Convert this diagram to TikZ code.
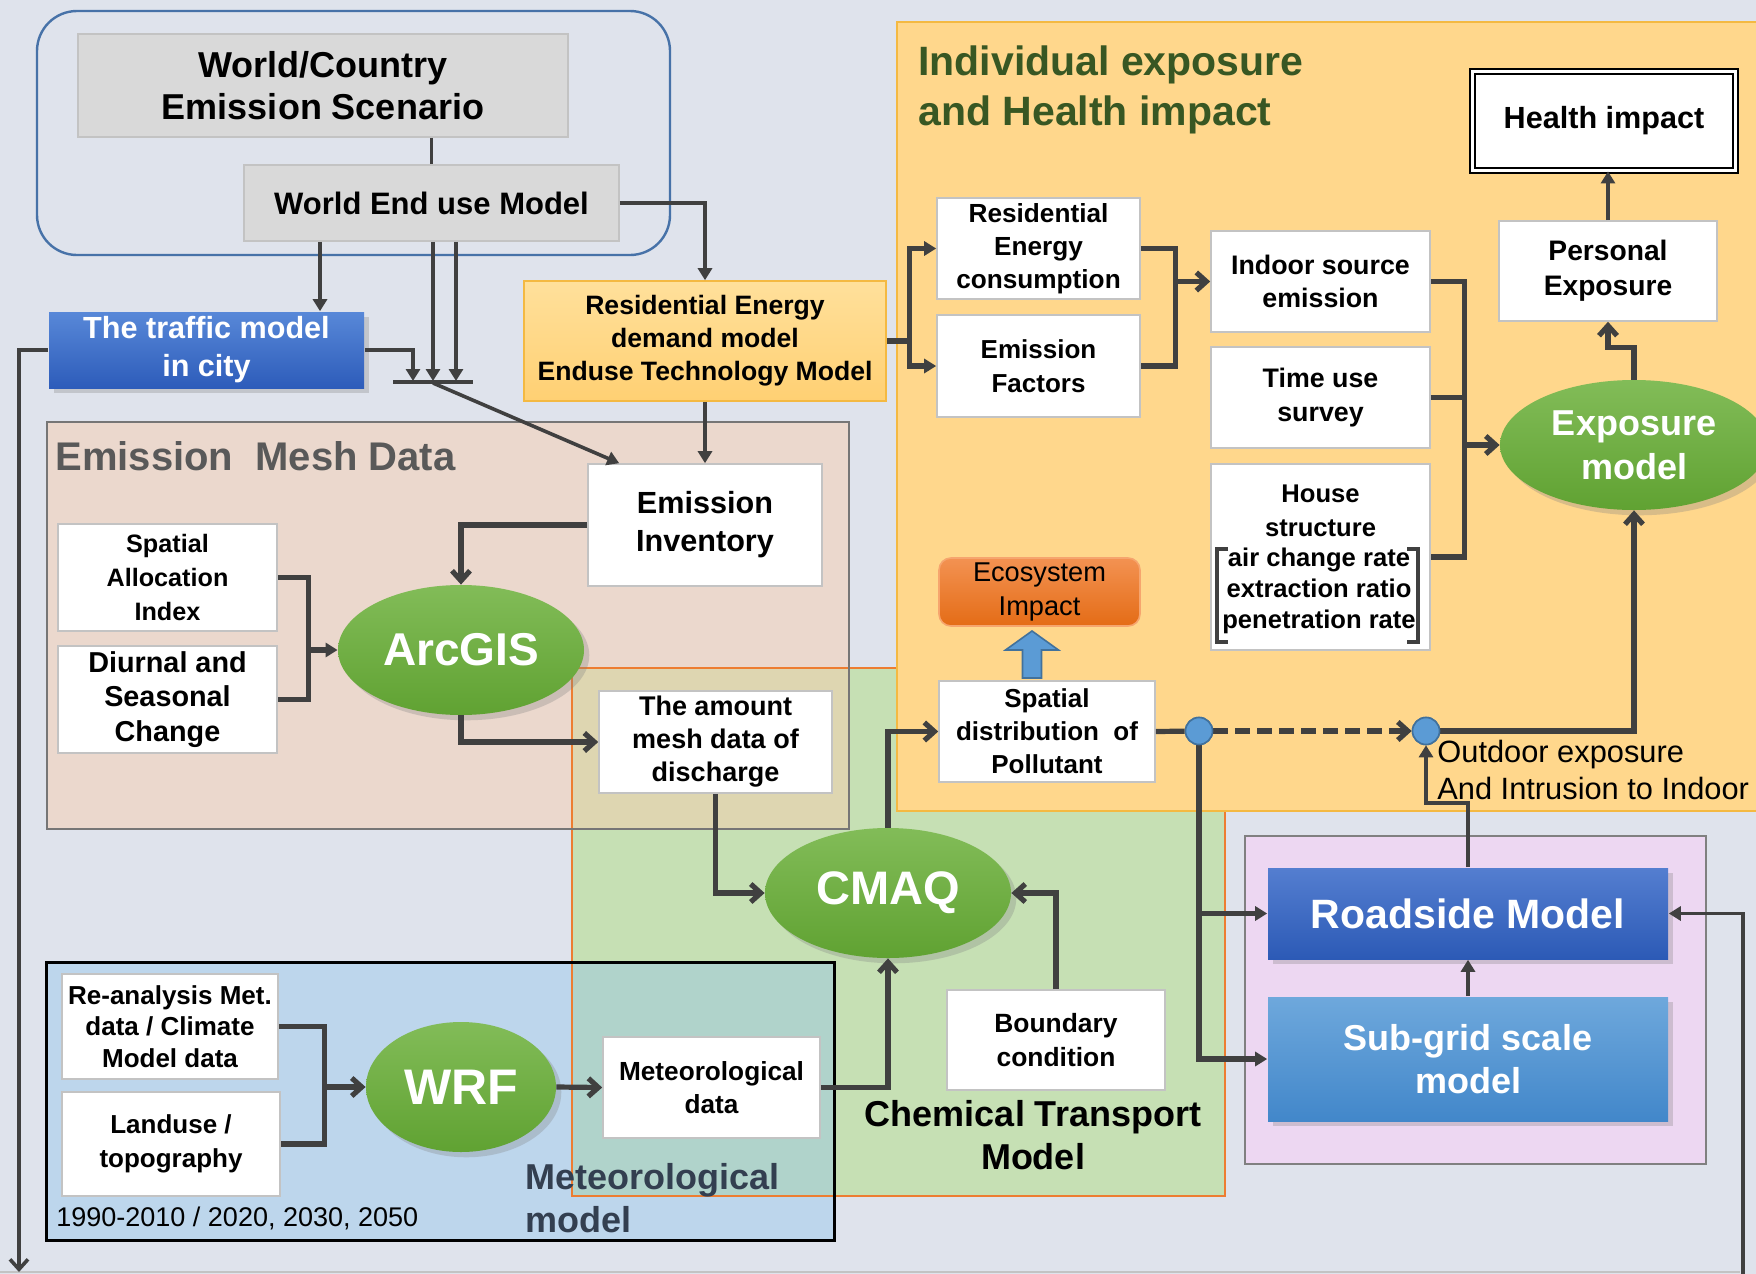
\documentclass[tikz,border=0pt]{standalone}
\usepackage{fontspec}
\setmainfont{Liberation Sans}
\usetikzlibrary{arrows.meta,shapes.geometric,shadows,calc}

\definecolor{bgc}{RGB}{223,227,236}
\definecolor{linec}{RGB}{64,64,64}
\definecolor{boxline}{RGB}{195,195,195}
\definecolor{greyfill}{RGB}{217,217,217}
\definecolor{framec}{RGB}{71,114,168}
\definecolor{meshc}{RGB}{235,216,205}
\definecolor{meshline}{RGB}{118,118,118}
\definecolor{ctmc}{RGB}{198,224,180}
\definecolor{ctmline}{RGB}{237,125,49}
\definecolor{overc}{RGB}{222,214,177}
\definecolor{metc}{RGB}{189,214,236}
\definecolor{metover}{RGB}{176,211,203}
\definecolor{iec}{RGB}{255,215,140}
\definecolor{ieline}{RGB}{244,185,66}
\definecolor{purc}{RGB}{237,215,242}
\definecolor{purline}{RGB}{128,128,128}
\definecolor{titlegreen}{RGB}{56,87,35}
\definecolor{metlabelc}{RGB}{51,63,80}
\definecolor{meshlabelc}{RGB}{89,89,89}
\definecolor{dotc}{RGB}{91,155,213}
\definecolor{dotline}{RGB}{65,113,156}
\definecolor{blobtop}{RGB}{130,188,88}
\definecolor{blobbot}{RGB}{96,162,50}
\definecolor{trafftop}{RGB}{88,136,216}
\definecolor{traffbot}{RGB}{45,92,186}
\definecolor{roadtop}{RGB}{84,126,208}
\definecolor{roadbot}{RGB}{44,90,182}
\definecolor{subtop}{RGB}{110,168,220}
\definecolor{subbot}{RGB}{66,135,202}
\definecolor{ecotop}{RGB}{243,146,82}
\definecolor{ecobot}{RGB}{228,108,22}
\definecolor{ecoline}{RGB}{246,165,110}
\definecolor{redtop}{RGB}{255,224,155}
\definecolor{redbot}{RGB}{255,208,115}

\begin{document}
\begin{tikzpicture}[x=0.5pt,y=0.5pt,yscale=-1,xscale=1,
	box/.style={draw=boxline,line width=0.8pt,fill=white,inner sep=0pt,align=center,font=\bfseries},
	wh/.style 2 args={minimum width=#1*0.5pt,minimum height=#2*0.5pt},
	fs/.style 2 args={font=\bfseries\fontsize{#1}{#2}\selectfont},
	blob/.style={ellipse,inner sep=0pt,align=center,top color=blobtop,bottom color=blobbot,text=white,drop shadow={opacity=0.3}},
	wire/.style={draw=linec,line width=2.6pt},
	wirethin/.style={draw=linec,line width=1.8pt},
	barb/.style={wire,-{Straight Barb[length=5pt,width=9pt]}},
	tri/.style={wirethin,-{Triangle[length=6pt,width=7pt]}},
	trithick/.style={wire,-{Triangle[length=6pt,width=7pt]}},
	dot/.style={circle,fill=dotc,draw=dotline,line width=0.8pt,minimum size=13.5pt,inner sep=0pt}]
	\useasboundingbox (0,0) rectangle (1756,1274);
	\clip (0,0) rectangle (1756,1274);

	%Shape: Background
	\fill[bgc] (0,0) rectangle (1756,1274);
	\draw[boxline,line width=0.8pt] (0,1272) -- (1740,1272);
	%Shape: Rounded frame
	\draw[framec,line width=1.2pt,rounded corners=20pt] (37,11) rectangle (670,255);
	%Shape: Emission mesh / chemical transport / meteorological areas
	\fill[meshc] (47,422) rectangle (849,829);
	\fill[ctmc] (572,668) rectangle (1225,1196);
	\fill[overc] (572,668) rectangle (849,829);
	\fill[metc] (46,962) rectangle (834,1240);
	\fill[metover] (572,962) rectangle (834,1196);
	\draw[ctmline,line width=1.1pt] (572,668) rectangle (1225,1196);
	\draw[meshline,line width=1.2pt] (47,422) rectangle (849,829);
	\draw[black,line width=1.5pt] (46,962) rectangle (834,1240);
	%Shape: Individual exposure area
	\filldraw[fill=iec,draw=ieline,line width=1pt] (897,22) rectangle (1780,811);
	%Shape: Roadside area
	\filldraw[fill=purc,draw=purline,line width=1.2pt] (1245,836) rectangle (1706,1164);

	% Text Node
	\node[box,fill=greyfill,wh={490}{103},fs={18}{21}] (wcs) at (323,85.5) {World/Country\\Emission Scenario};
	% Text Node
	\node[box,fill=greyfill,wh={375}{76},fs={15.5}{19}] (weum) at (431.5,203) {World End use Model};
	% Text Node
	\node[box,draw=none,top color=trafftop,bottom color=traffbot,text=white,drop shadow={opacity=0.3},wh={315}{76},fs={15.3}{19}] (traffic) at (206.5,350) {The traffic model\\in city};
	% Text Node
	\node[box,draw=ieline,top color=redtop,bottom color=redbot,wh={362}{120},fs={13.3}{16.5}] (redm) at (705,341) {Residential Energy\\demand model\\Enduse Technology Model};
	% Text Node
	\node[anchor=west,inner sep=0pt,text=meshlabelc,fs={20}{24}] (meshtitle) at (55,456) {Emission\ \ Mesh Data};
	% Text Node
	\node[box,wh={234}{122},fs={15.3}{19}] (einv) at (705,525) {Emission\\Inventory};
	% Text Node
	\node[box,wh={219}{107},fs={12.6}{16.8}] (sai) at (167.5,577.5) {Spatial\\Allocation\\Index};
	% Text Node
	\node[box,wh={219}{107},fs={14.4}{17.3}] (dsc) at (167.5,699.5) {Diurnal and\\Seasonal\\Change};
	% Text Node
	\node[blob,wh={246}{130},fs={23}{27}] (arcgis) at (461,650) {ArcGIS};
	% Text Node
	\node[box,wh={233}{102},fs={13.5}{16.5}] (amount) at (715.5,742) {The amount\\mesh data of\\discharge};
	% Text Node
	\node[blob,wh={246}{130},fs={23.5}{27}] (cmaq) at (888,893) {CMAQ};
	% Text Node
	\node[box,wh={218}{100},fs={13.2}{16.8}] (bcond) at (1056,1040) {Boundary\\condition};
	% Text Node
	\node[align=center,inner sep=0pt,fs={18}{21.8}] (ctmlabel) at (1033,1135) {Chemical Transport\\Model};
	% Text Node
	\node[box,wh={217}{101},fs={13.1}{16.8}] (metdata) at (711.5,1087.5) {Meteorological\\data};
	% Text Node
	\node[box,wh={216}{105},fs={13}{15.7}] (reanal) at (170,1026.5) {Re-analysis Met.\\data / Climate\\Model data};
	% Text Node
	\node[box,wh={218}{104},fs={13}{16.8}] (landuse) at (171,1144) {Landuse /\\topography};
	% Text Node
	\node[blob,wh={190}{130},fs={25}{29}] (wrf) at (461,1087) {WRF};
	% Text Node
	\node[anchor=west,inner sep=0pt,font=\fontsize{13.5}{16}\selectfont] (years) at (56,1218.5) {1990-2010 / 2020, 2030, 2050};
	% Text Node
	\node[anchor=west,inner sep=0pt,align=left,text=metlabelc,fs={18}{21.3}] (metlabel) at (525,1198) {Meteorological\\model};

	% Text Node
	\node[anchor=west,inner sep=0pt,align=left,text=titlegreen,fs={20.5}{25}] (ietitle) at (918,90) {Individual exposure\\and Health impact};
	% Text Node
	\node[box,draw=black,double,double distance=1.6pt,line width=0.9pt,wh={263}{99},fs={15.3}{19}] (health) at (1604,121) {Health impact};
	% Text Node
	\node[box,wh={203}{101},fs={13.1}{16.5}] (rec) at (1038.5,248.5) {Residential\\Energy\\consumption};
	% Text Node
	\node[box,wh={203}{102},fs={13}{16.8}] (ef) at (1038.5,366) {Emission\\Factors};
	% Text Node
	\node[box,wh={219}{101},fs={13.4}{16.8}] (indoor) at (1320.5,281.5) {Indoor source\\emission};
	% Text Node
	\node[box,wh={219}{101},fs={13.4}{16.8}] (timeuse) at (1320.5,397.5) {Time use\\survey};
	% Text Node
	\node[box,wh={219}{186}] (house) at (1320.5,557) {};
	\node[align=center,inner sep=0pt,fs={12.8}{16.8}] (househd) at (1320.5,511) {House\\structure};
	\node[align=center,inner sep=0pt,fs={12.8}{15.4}] (houseprm) at (1319,591) {air change rate\\extraction ratio\\penetration rate};
	%Shape: Brackets
	\draw[linec,line width=2pt] (1228,549) -- (1217,549) -- (1217,642) -- (1228,642);
	\draw[linec,line width=2pt] (1407,549) -- (1418,549) -- (1418,642) -- (1407,642);
	% Text Node
	\node[box,wh={218}{100},fs={14.1}{17.4}] (personal) at (1608,271) {Personal\\Exposure};
	% Text Node
	\node[blob,wh={268}{130},fs={18}{21.8}] (expmodel) at (1634,445) {Exposure\\model};
	% Text Node
	\node[box,draw=ecoline,rounded corners=6pt,top color=ecotop,bottom color=ecobot,wh={201}{68},font=\fontsize{13.6}{16.8}\selectfont] (eco) at (1039.5,592) {Ecosystem\\Impact};
	% Text Node
	\node[box,wh={216}{101},fs={13}{16.5}] (spatial) at (1047,731.5) {Spatial\\distribution\ \ of\\Pollutant};
	%Shape: Block arrow
	\filldraw[fill=dotc,draw=dotline,line width=0.8pt] (1032,631) -- (1058.5,650) -- (1041.5,650) -- (1041.5,678) -- (1022.5,678) -- (1022.5,650) -- (1005.5,650) -- cycle;
	% Text Node
	\node[box,draw=none,top color=roadtop,bottom color=roadbot,text=white,drop shadow={opacity=0.3},wh={400}{91},fs={20.5}{24}] (roadside) at (1468,913.5) {Roadside Model};
	% Text Node
	\node[box,draw=none,top color=subtop,bottom color=subbot,text=white,drop shadow={opacity=0.3},wh={400}{124},fs={18}{21.8}] (subgrid) at (1468,1059) {Sub-grid scale\\model};
	% Text Node
	\node[anchor=west,inner sep=0pt,align=left,font=\fontsize{15.4}{18.5}\selectfont] (outdoor) at (1437,770) {Outdoor exposure\\And Intrusion to Indoor};

	%Straight Lines: top block
	\draw[wirethin] (wcs.south -| weum.north) -- (weum.north);
	\coordinate (wa) at ($(weum.south)+(-111.5,0)$);
	\draw[tri] (wa) -- (wa |- traffic.north);
	\coordinate (barL) at (393,382);
	\coordinate (barR) at (473,382);
	\draw[linec,line width=2.2pt] (barL) -- (barR);
	\draw[tri] (traffic.east) -| ($(barL)+(20,-1)$);
	\draw[tri] ($(weum.south)+(1.5,0)$) -- ($(barL)+(40,-1)$);
	\draw[tri] ($(weum.south)+(24.5,0)$) -- ($(barL)+(63,-1)$);
	\draw[tri] ($(barL)+(40,1)$) -- ($(einv.north west)+(32,0)$);
	\draw[tri] (weum.east) -| (redm.north);
	\draw[tri] (redm.south) -- (einv.north);
	\coordinate (lEdge) at (19,1272);
	\draw[wirethin,-{Straight Barb[length=5pt,width=9pt]}] (traffic.west) -| (lEdge);

	%Straight Lines: emission mesh
	\draw[barb] (einv.west) -| (arcgis.north);
	\coordinate (jA) at ($(dsc.east)+(31,0)$);
	\draw[wire] (sai.east) -| (jA) -- (dsc.east);
	\draw[trithick] (jA |- arcgis.west) -- (arcgis.west);
	\draw[barb] (arcgis.south) |- (amount.west);

	%Straight Lines: chemical transport
	\draw[barb] (amount.south) |- (cmaq.west);
	\draw[barb] (bcond.north) |- (cmaq.east);
	\draw[barb] (metdata.east) -| (cmaq.south);
	\draw[barb] (cmaq.north) |- (spatial.west);

	%Straight Lines: meteorological
	\coordinate (jW) at ($(landuse.east)+(44,0)$);
	\draw[wire] (reanal.east) -| (jW) -- (landuse.east);
	\draw[barb] (jW |- wrf.west) -- (wrf.west);
	\draw[barb] (wrf.east) -- (metdata.west);

	%Straight Lines: exposure
	\coordinate (jR) at ($(redm.east)+(23,0)$);
	\draw[wire] (redm.east) -- (jR);
	\draw[trithick] (jR) |- (rec.west);
	\draw[trithick] (jR) |- (ef.west);
	\coordinate (jI) at ($(ef.east)+(35,0)$);
	\draw[wire] (rec.east) -| (jI) -- (ef.east);
	\draw[barb] (jI |- indoor.west) -- (indoor.west);
	\coordinate (jE) at ($(house.east)+(34,0)$);
	\draw[wire] (indoor.east) -| (jE) -- (house.east);
	\draw[wire] (timeuse.east) -- (jE |- timeuse.east);
	\draw[barb] (jE |- expmodel.west) -- (expmodel.west);
	\draw[barb] (expmodel.north) -- ($(expmodel.north)+(0,-32)$) -| (personal.south);
	\draw[tri] (personal.north) -- (personal.north |- health.south);

	%Straight Lines: outdoor exposure
	\node[dot] (dotA) at (1199,731) {};
	\node[dot] (dotB) at (1426,731) {};
	\draw[wire] (spatial.east) -- (dotA);
	\draw[barb,dash pattern=on 7.5pt off 3.5pt] (dotA) -- (dotB);
	\draw[barb] (dotB) -| (expmodel.south);
	\draw[trithick] (dotA) |- (roadside.west);
	\draw[trithick] (dotA) |- (subgrid.west);
	\draw[tri] (roadside.north) -- ($(roadside.north)+(0,-64)$) -| (dotB.south);
	\draw[tri] (subgrid.north) -- (roadside.south);
	\coordinate (rEdge) at (1743,1274);
	\draw[tri] (rEdge) |- (roadside.east);
	\node[dot] at (dotA) {};
	\node[dot] at (dotB) {};

\end{tikzpicture}
\end{document}
